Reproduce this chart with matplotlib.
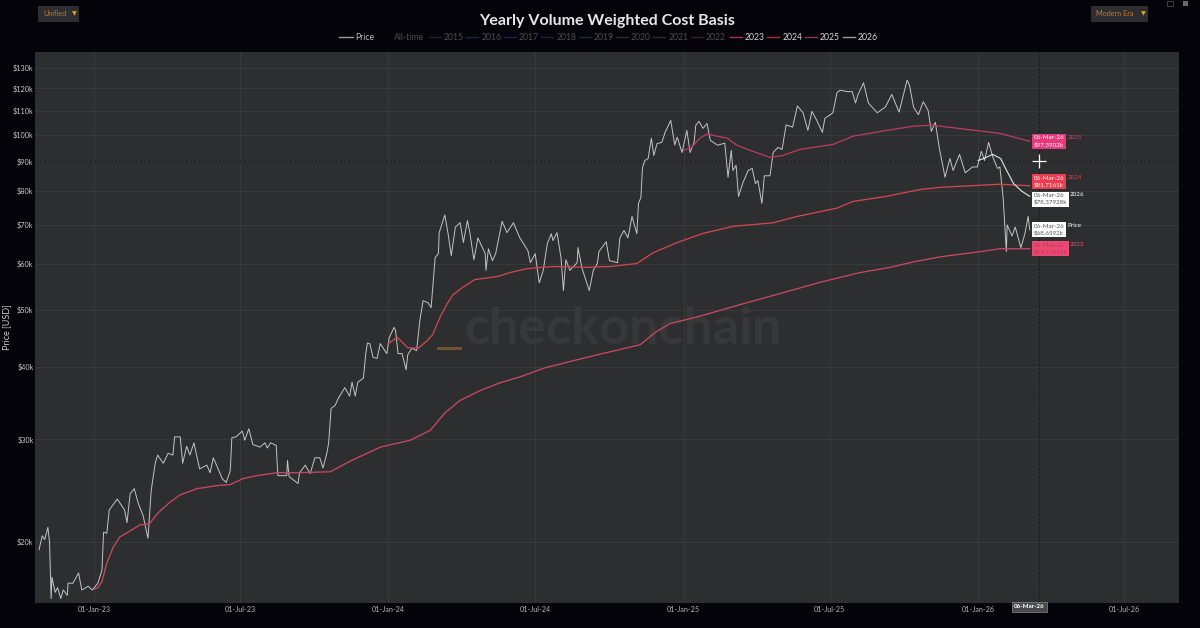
import numpy as np
import pandas as pd
import matplotlib
matplotlib.use("Agg")
import matplotlib.pyplot as plt
from matplotlib.patches import Rectangle

plt.rcParams['font.family'] = ['Lato', 'DejaVu Sans']

BASE = pd.Timestamp('2023-01-01')

# Days since 01-Jan-23 and USD thousands
price_days = [-68,-64,-61,-57,-55,-53,-52,-48,-45,-41,-38,-33,-32,-26,-19,-15,-7,-2,5,10,12,16,19,29,38,41,45,50,55,61,67,71,76,79,86,92,98,100,107,110,115,119,124,131,140,144,148,153,159,164,169,171,176,184,187,192,197,206,212,215,219,226,228,239,240,242,253,255,262,268,274,280,284,289,291,294,299,
    303,311,317,320,324,327,334,337,339,342,346,351,355,363,366,372,374,377,382,387,389,394,400,404,408,414,418,423,427,428,435,439,443,448,454,458,463,466,471,476,485,486,489,494,498,506,512,520,528,538,541,547,552,557,562,567,569,574,579,582,585,590,599,600,605,614,619,624,626,635,639,649,652,657,662,667,673,675,678,680,683,687,691,694,698,704,708,715,720,723,729,735,739,744,746,750,755,760,764,773,782,786,790,792,796,799,804,811,816,820,823,828,831,838,842,848,853,858,866,872,879,885,890,896,903,906,916,921,925,934,940,944,947,954,960,971,981,989,998,1008,1011,1016,1022,1028,1034,1038,1043,1048,1055,1061,1065,1073,1080,1089,1095,1100,1104,1109,1114,1120,1123,1127,1131,1132,1138,1142,1149,1154,1158,1160]
price_k = [19.4,20.5,20.2,21.2,20.0,16.0,17.4,16.4,16.7,16.0,16.55,16.2,17.0,17.0,17.7,16.55,16.8,16.55,17.0,17.9,20.8,20.7,22.7,23.7,22.7,21.6,24.2,24.7,23.3,22.2,20.3,24.5,27.3,28.2,27.3,28.4,28.2,30.3,30.3,27.3,29.2,28.2,29.6,26.7,27.1,26.3,27.9,26.9,25.7,25.3,26.5,30.2,30.3,31.0,29.9,31.3,29.4,29.1,29.6,29.0,29.6,29.3,26.0,26.0,27.6,25.9,25.2,26.3,27.1,26.2,27.9,27.9,26.8,28.5,29.6,33.9,34.3,
    35.3,36.8,35.6,37.6,35.6,37.6,38.2,42.1,43.9,43.8,41.5,41.3,43.8,42.1,44.8,46.7,46.1,42.1,42.1,39.5,41.9,43.0,42.6,48.0,51.9,51.5,50.5,61.5,62.5,67.9,72.8,67.6,62.0,69.4,70.6,65.3,71.2,67.9,61.0,66.5,62.5,58.5,63.7,60.8,62.5,71.0,67.9,70.6,66.5,63.2,60.3,62.5,55.7,58.5,65.0,67.6,65.8,67.9,61.5,54.0,61.0,58.5,60.3,64.0,59.0,54.0,58.5,60.1,63.0,65.5,60.8,60.3,66.5,68.5,66.5,72.4,67.6,76.2,78.0,87.8,90.3,91.0,98.6,92.1,96.5,97.0,100.9,105.8,96.0,99.0,93.2,101.7,93.2,97.0,103.7,105.4,102.5,104.5,97.8,95.9,96.7,84.5,94.0,86.8,88.6,78.3,82.4,86.8,87.5,82.4,83.4,76.2,85.0,85.0,93.2,95.1,94.3,103.9,103.0,112.0,109.0,101.7,109.6,105.8,100.9,106.6,109.0,118.0,119.2,118.5,118.5,113.3,117.0,122.7,113.3,109.0,111.5,117.2,109.3,124.0,121.5,111.5,108.2,113.9,110.1,101.3,105.0,94.7,84.5,91.0,86.8,92.5,86.0,88.0,88.0,93.6,90.3,97.0,91.7,87.5,88.0,78.0,63.0,70.0,67.0,69.4,64.0,67.6,72.4,68.65]

days_2023 = [0,5,10,16,24,32,45,57,69,79,94,107,128,153,169,185,202,227,252,293,317,355,392,417,435,454,479,503,528,559,590,627,677,696,714,751,801,851,900,950,987,1016,1049,1099,1123,1160]
cost_2023 = [16.6,16.7,17.1,18.4,19.6,20.4,20.9,21.4,21.5,22.4,23.4,24.1,24.7,25.0,25.1,25.7,26.0,26.3,26.3,26.4,27.5,29.1,29.9,31.1,33.3,35.0,36.4,37.5,38.4,39.8,40.8,42.0,43.6,45.8,47.4,48.8,51.1,53.4,55.8,58.0,59.2,60.5,61.7,63.0,63.7,63.72]

days_2024 = [365,376,389,402,413,420,429,438,445,458,472,500,516,537,569,611,640,673,693,723,755,792,842,872,921,941,983,1024,1049,1123,1160]
cost_2024 = [43.8,44.9,43.1,43.0,44.3,45.4,48.6,51.3,53.1,54.8,56.4,57.1,58.0,58.9,59.4,59.2,59.4,60.1,62.7,65.3,67.7,69.6,70.6,72.4,74.8,76.8,78.4,80.5,81.2,82.2,81.72]

days_2025 = [731,741,751,760,785,797,817,838,854,875,916,941,983,1016,1040,1049,1123,1160]
cost_2025 = [94.0,95.1,98.6,100.2,98.6,95.9,93.6,91.4,92.1,94.3,96.2,99.4,101.7,103.4,103.8,103.4,100.5,97.39]

days_2026 = [1096,1103,1114,1124,1130,1140,1150,1160]
cost_2026 = [90.3,91.0,92.5,91.0,87.5,82.4,80.0,78.38]

y_ticks_k = [20,30,40,50,60,70,80,90,100,110,120,130]
x_ticks = ['2023-01-01','2023-07-01','2024-01-01','2024-07-01','2025-01-01','2025-07-01','2026-01-01','2026-07-01']
x_tick_labels = ['01-Jan-23','01-Jul-23','01-Jan-24','01-Jul-24','01-Jan-25','01-Jul-25','01-Jan-26','01-Jul-26']
legend_faded = ['2015','2016','2017','2018','2019','2020','2021','2022']
legend_faded_colors = ['#1c2030','#1c2448','#1c2448','#1a2238','#1a2a38','#1e3434','#2c3020','#33261c']
legend_active = ['2023','2024','2025','2026']

C_BG = '#04040a'; C_PLOT = '#2d2e30'; C_GRID = '#3b3c3e'
C_PRICE = '#c4c4c4'; C_23 = '#c9485f'; C_24 = '#cf4650'; C_25 = '#b93a5e'; C_26 = '#e6e6e6'

def dt(days):
    return BASE + pd.to_timedelta(np.asarray(days), unit='D')

W, H = 1200, 628
fig = plt.figure(figsize=(W/100, H/100), dpi=100, facecolor=C_BG)
L, R, T, B = 35, 1179, 52, 603
ax = fig.add_axes([L/W, 1-B/H, (R-L)/W, (B-T)/H], facecolor=C_PLOT)

ax.set_yscale('log')
ax.set_ylim(15.72, 138.6)
ax.set_xlim(dt(-73), dt(1345))
ax.set_yticks(y_ticks_k)
ax.set_yticklabels([f'${v}k' for v in y_ticks_k], fontsize=5.2, color='#c8c8c8')
ax.yaxis.set_minor_locator(matplotlib.ticker.NullLocator())
ax.set_xticks(pd.to_datetime(x_ticks))
ax.set_xticklabels(x_tick_labels, fontsize=5.2, color='#b5b5b5')
ax.tick_params(length=0, pad=1)
ax.tick_params(axis='x', pad=2)
ax.grid(True, color=C_GRID, lw=0.6)
ax.set_axisbelow(True)
for s in ax.spines.values():
    s.set_visible(False)

# watermark
ax.text(0.3755, 0.497, 'checkonchain', transform=ax.transAxes, fontsize=37.5, fontweight='bold', color='#37383a', va='center', ha='left', zorder=0.5)
ax.add_patch(Rectangle((0.3515, 0.4585), 0.0215, 0.0065, transform=ax.transAxes, color='#6f5434', lw=0, zorder=0.6))

ax.plot(dt(price_days), price_k, color=C_PRICE, lw=0.7, zorder=3)
ax.plot(dt(days_2023), cost_2023, color=C_23, lw=0.95, zorder=4)
ax.plot(dt(days_2024), cost_2024, color=C_24, lw=0.95, zorder=4)
ax.plot(dt(days_2025), cost_2025, color=C_25, lw=0.95, zorder=4)
ax.plot(dt(days_2026), cost_2026, color=C_26, lw=0.8, zorder=4)

# crosshair
cross_day = dt([1171])[0]
ax.axvline(cross_day, color='#17171a', lw=0.6, ls=(0, (3, 2)), zorder=2)
ax.axhline(90, color='#17171a', lw=0.6, ls=(0, (3, 2)), zorder=2)
ax.plot([cross_day], [90], marker='+', ms=10, mew=0.9, color='white', zorder=6)

# hover labels
last = dt([1160])[0]
hover = [
    ('$97.3902k', cost_2025[-1], '2025', '#e8387a', '#ffffff', '#e8387a', 0.0),
    ('$81.7161k', cost_2024[-1], '2024', '#ef3b4f', '#ffffff', '#ef3b4f', 3.0),
    ('$78.37928k', cost_2026[-1], '2026', '#ffffff', '#555555', '#ffffff', -2.0),
    ('$68.6592k', price_k[-1], 'Price', '#ffffff', '#555555', '#ffffff', 0.0),
    ('$63.71911k', cost_2023[-1], '2023', '#e84a72', '#c9305a', '#e84a72', 0.0),
]
for val_txt, val, name, bg, fg, namec, dy in hover:
    ax.annotate(f'06-Mar-26\n{val_txt}', xy=(last, val), xytext=(3, dy), textcoords='offset points',
                fontsize=4.5, color=fg, va='center', ha='left', linespacing=1.3, zorder=8,
                bbox=dict(boxstyle='square,pad=0.25', fc=bg, ec='none'))
    ax.annotate(name, xy=(last, val), xytext=(27 if len(val_txt) < 10 else 29, dy + 3.0), textcoords='offset points',
                fontsize=4.5, color=namec, va='center', ha='left', zorder=8)

# hover date on axis
fig.text(1029/W, 1-607/H, '06-Mar-26', fontsize=4.5, color='white', fontweight='bold', ha='center', va='center', zorder=9,
         bbox=dict(boxstyle='square,pad=0.35', fc='#4a4a4c', ec='#8a8a8a', lw=0.5))

# headings
fig.text(607/W, 1-21/H, 'Yearly Volume Weighted Cost Basis', fontsize=11.5, fontweight='bold', color='#e6e6e6', ha='center', va='center')
fig.text(7/W, 1-327/H, 'Price [USD]', fontsize=6.5, color='#c8c8c8', rotation=90, ha='center', va='center')

def leg_line(x0, x1, color, lw=1.0):
    fig.add_artist(plt.Line2D([x0/W, x1/W], [1-37/H, 1-37/H], color=color, lw=lw))

def leg_text(x, s, color):
    fig.text(x/W, 1-37/H, s, fontsize=6.2, color=color, ha='left', va='center')

leg_line(339, 353, '#9a9a9a'); leg_text(355, 'Price', '#bdbdbd')
leg_text(394, 'All-time', '#4c4c50')
for i, (lab, col) in enumerate(zip(legend_faded, legend_faded_colors)):
    x = 444 + 37.4*i
    leg_line(x-15, x-3, col); leg_text(x, lab, '#4c4c50')
for i, (lab, col) in enumerate(zip(legend_active, ['#a83050', '#a82c40', '#98305a', '#9a9a9a'])):
    x = 744.5 + 37.7*i
    leg_line(x-15, x-3, col); leg_text(x, lab, '#d8d8d8')

# dropdowns
def dropdown(x0, x1, label):
    fig.add_artist(Rectangle((x0/W, 1-22/H), (x1-x0)/W, 16/H, transform=fig.transFigure, fc='#2d2e30', ec='none'))
    fig.text((x0+5.5)/W, 1-14/H, label, fontsize=5.2, color='#c8742c', ha='left', va='center')
    fig.text((x1-5)/W, 1-14/H, '\u25bc', fontsize=4.5, color='#e0a020', ha='center', va='center', family=['DejaVu Sans'])
dropdown(38, 79, 'Unified')
dropdown(1091, 1148, 'Modern Era')

# toolbar icons
fig.add_artist(Rectangle((1167/W, 1-6/H), 6/W, 5/H, transform=fig.transFigure, fc='none', ec='#4a4a4e', lw=0.6))
fig.add_artist(Rectangle((1183/W, 1-6/H), 5/W, 5/H, transform=fig.transFigure, fc='#6a6a6e', ec='none'))

fig.savefig('out.png', dpi=100, facecolor=C_BG)
